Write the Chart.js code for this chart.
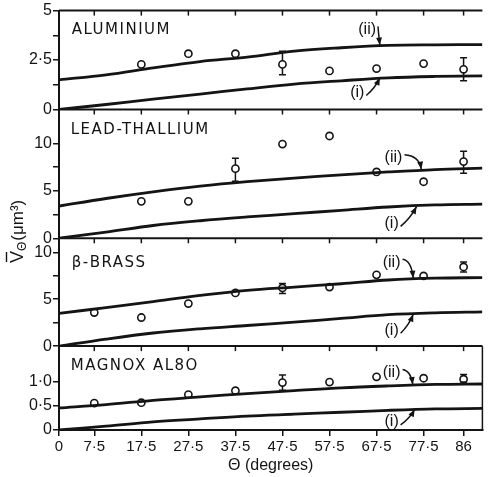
<!DOCTYPE html>
<html>
<head>
<meta charset="utf-8">
<script src="https://cdn.jsdelivr.net/npm/chart.js@4"></script>
<style>
  html, body { margin: 0; padding: 0; background: #fff; }
  #wrap { width: 488px; height: 477px; }
</style>
</head>
<body>
<div id="wrap"><canvas id="chart" width="488" height="477"></canvas></div>
<script>
// ----- data -----
const curveAngles = [0, 10, 20, 30, 40, 50, 60, 70, 80, 90];
const xTickValues = [0, 7.5, 17.5, 27.5, 37.5, 47.5, 57.5, 67.5, 77.5, 86];

// Aluminium
const alCurveI  = [0, 0.25, 0.52, 0.78, 1.04, 1.28, 1.45, 1.6, 1.67, 1.7];
const alCurveII = [1.5, 1.75, 2.1, 2.42, 2.65, 2.95, 3.12, 3.24, 3.27, 3.28];
const alAngles  = [17.5, 27.5, 37.5, 47.5, 57.5, 67.5, 77.5, 86];
const alValues  = [2.28, 2.82, 2.82, 2.28, 1.95, 2.07, 2.32, 2.03];
const alErrAngles = [47.5, 86];
const alErrLow    = [1.75, 1.45];
const alErrHigh   = [2.95, 2.62];
const alTicks      = [0, 1.25, 2.5, 3.75, 5];
const alTickLabels = ['0', '', '2·5', '', '5'];

// Lead-thallium
const ptCurveI  = [0, 0.65, 1.35, 1.85, 2.25, 2.6, 2.95, 3.3, 3.52, 3.6];
const ptCurveII = [3.4, 4.2, 4.9, 5.5, 5.97, 6.35, 6.7, 7.0, 7.25, 7.4];
const ptAngles  = [17.5, 27.5, 37.5, 47.5, 57.5, 67.5, 77.5, 86];
const ptValues  = [3.9, 3.9, 7.35, 9.95, 10.8, 7.0, 5.97, 8.1];
const ptErrAngles = [37.5, 86];
const ptErrLow    = [6.03, 6.87];
const ptErrHigh   = [8.45, 9.2];
const ptTicks      = [0, 2.5, 5, 7.5, 10];
const ptTickLabels = ['0', '', '5', '', '10'];

// beta-brass
const bbCurveI  = [0, 0.75, 1.4, 1.85, 2.2, 2.55, 2.95, 3.35, 3.55, 3.65];
const bbCurveII = [3.5, 4.1, 4.75, 5.4, 5.95, 6.3, 6.65, 7.05, 7.25, 7.3];
const bbAngles  = [7.5, 17.5, 27.5, 37.5, 47.5, 57.5, 67.5, 77.5, 86];
const bbValues  = [3.58, 3.05, 4.54, 5.67, 6.2, 6.3, 7.6, 7.48, 8.44];
const bbErrAngles = [47.5, 86];
const bbErrLow    = [5.6, 7.9];
const bbErrHigh   = [6.67, 8.97];
const bbTicks      = [0, 2.5, 5, 7.5, 10];
const bbTickLabels = ['0', '', '5', '', '10'];

// Magnox AL80
const mgCurveI  = [0, 0.08, 0.17, 0.23, 0.29, 0.33, 0.37, 0.41, 0.44, 0.45];
const mgCurveII = [0.46, 0.53, 0.62, 0.69, 0.76, 0.82, 0.88, 0.92, 0.95, 0.96];
const mgAngles  = [7.5, 17.5, 27.5, 37.5, 47.5, 57.5, 67.5, 77.5, 86];
const mgValues  = [0.56, 0.57, 0.74, 0.82, 0.99, 1.0, 1.11, 1.08, 1.06];
const mgErrAngles = [47.5, 86];
const mgErrLow    = [0.83, 1.0];
const mgErrHigh   = [1.15, 1.16];
const mgTicks      = [0, 0.5, 1];
const mgTickLabels = ['0', '0·5', '1·0'];

// ----- panel setup -----
const INK = '#141414';
const panels = [
  { id: 'yAl', name: 'ALUMINIUM', max: 5, weight: 99,
    curveI: alCurveI, curveII: alCurveII, angles: alAngles, values: alValues,
    errAngles: alErrAngles, errLow: alErrLow, errHigh: alErrHigh,
    ticks: alTicks, tickLabels: alTickLabels,
    nameAt: [2.7, 4.0], iiText: [65.5, 4.05], iiTip: [68.2, 3.26], iText: [63.4, 0.86], iTip: [68.2, 1.6] },
  { id: 'yPt', name: 'LEAD-THALLIUM', max: 13.6, weight: 129,
    curveI: ptCurveI, curveII: ptCurveII, angles: ptAngles, values: ptValues,
    errAngles: ptErrAngles, errLow: ptErrLow, errHigh: ptErrHigh,
    ticks: ptTicks, tickLabels: ptTickLabels,
    nameAt: [2.5, 11.4], iiText: [71.1, 8.5], iiTip: [77, 7.3], iText: [70.7, 1.58], iTip: [76, 3.35] },
  { id: 'yBb', name: 'β-BRASS', max: 11.5, weight: 108,
    curveI: bbCurveI, curveII: bbCurveII, angles: bbAngles, values: bbValues,
    errAngles: bbErrAngles, errLow: bbErrLow, errHigh: bbErrHigh,
    ticks: bbTicks, tickLabels: bbTickLabels,
    nameAt: [2.7, 8.8], iiText: [70.7, 8.95], iiTip: [75.3, 7.25], iText: [70.7, 1.7], iTip: [75.3, 3.4] },
  { id: 'yMg', name: 'MAGNOX AL8O', max: 1.75, weight: 84,
    curveI: mgCurveI, curveII: mgCurveII, angles: mgAngles, values: mgValues,
    errAngles: mgErrAngles, errLow: mgErrLow, errHigh: mgErrHigh,
    ticks: mgTicks, tickLabels: mgTickLabels,
    nameAt: [2.5, 1.33], iiText: [70.7, 1.2], iiTip: [75.2, 0.95], iText: [70.7, 0.17], iTip: [75.6, 0.43] }
];

const toXY = (xs, ys) => xs.map((x, i) => ({ x: x, y: ys[i] }));

const datasets = [];
panels.forEach(p => {
  [p.curveI, p.curveII].forEach(c => {
    datasets.push({
      type: 'line', yAxisID: p.id, data: toXY(curveAngles, c),
      borderColor: INK, borderWidth: 2.8, pointRadius: 0,
      tension: 0.35, fill: false
    });
  });
  datasets.push({
    type: 'scatter', yAxisID: p.id, data: toXY(p.angles, p.values),
    pointStyle: 'circle', pointRadius: 3.6, borderWidth: 1.6,
    borderColor: INK, backgroundColor: '#fff'
  });
});

const scales = {
  x: {
    type: 'linear', min: 0, max: 90, position: 'bottom',
    afterBuildTicks: s => { s.ticks = xTickValues.map(v => ({ value: v })); },
    afterFit: s => { s.height = 47; },
    grid: { drawOnChartArea: false, tickLength: 6, color: INK, lineWidth: 1.5 },
    border: { color: INK, width: 2 },
    ticks: {
      color: INK, padding: 2, maxRotation: 0, autoSkip: false,
      font: { family: 'Liberation Sans', size: 15 },
      callback: v => String(v).replace('.', '·')
    },
    title: {
      display: true, text: 'Θ (degrees)', color: INK,
      font: { family: 'Liberation Sans', size: 16 },
      padding: { top: 0, bottom: 2 }
    }
  }
};
panels.forEach((p, i) => {
  scales[p.id] = {
    type: 'linear', position: 'left', stack: 'panels',
    stackWeight: p.weight, weight: panels.length - i,
    min: 0, max: p.max,
    afterBuildTicks: s => { s.ticks = p.ticks.map(v => ({ value: v })); },
    afterFit: s => { s.width = 59; },
    grid: { drawOnChartArea: false, tickLength: 6, color: INK, lineWidth: 1.5 },
    border: { color: INK, width: 2 },
    ticks: {
      color: INK, padding: 1, autoSkip: false,
      font: { family: 'Liberation Sans', size: 16 },
      callback: v => { const k = p.ticks.indexOf(v); return k >= 0 ? p.tickLabels[k] : ''; }
    }
  };
});

function drawArrow(ctx, from, ctrl, tip) {
  ctx.beginPath();
  ctx.moveTo(from[0], from[1]);
  ctx.quadraticCurveTo(ctrl[0], ctrl[1], tip[0], tip[1]);
  ctx.lineWidth = 1.5;
  ctx.stroke();
  const a = Math.atan2(tip[1] - ctrl[1], tip[0] - ctrl[0]);
  ctx.beginPath();
  ctx.moveTo(tip[0], tip[1]);
  ctx.lineTo(tip[0] - 8 * Math.cos(a - 0.38), tip[1] - 8 * Math.sin(a - 0.38));
  ctx.lineTo(tip[0] - 8 * Math.cos(a + 0.38), tip[1] - 8 * Math.sin(a + 0.38));
  ctx.closePath();
  ctx.fill();
}

const decorations = {
  id: 'decorations',
  afterDraw(chart) {
    const ctx = chart.ctx;
    const xs = chart.scales.x;
    const area = chart.chartArea;
    ctx.save();
    ctx.strokeStyle = INK;
    ctx.fillStyle = INK;

    panels.forEach((p, i) => {
      const ys = chart.scales[p.id];
      const px = v => xs.getPixelForValue(v);
      const py = v => ys.getPixelForValue(v);

      // top edge of the panel with little tick marks
      ctx.lineWidth = 2;
      ctx.beginPath();
      ctx.moveTo(area.left, ys.top);
      ctx.lineTo(area.right, ys.top);
      ctx.stroke();
      ctx.lineWidth = 1.5;
      xTickValues.forEach(v => {
        ctx.beginPath();
        ctx.moveTo(px(v), ys.top);
        ctx.lineTo(px(v), ys.top + 5);
        ctx.stroke();
      });

      // error bars
      ctx.lineWidth = 1.5;
      p.errAngles.forEach((a, k) => {
        const x = px(a), y0 = py(p.errLow[k]), y1 = py(p.errHigh[k]);
        const v = p.values[p.angles.indexOf(a)];
        const yc = py(v);
        ctx.beginPath();
        ctx.moveTo(x, y1); ctx.lineTo(x, yc - 3.6);
        ctx.moveTo(x, yc + 3.6); ctx.lineTo(x, y0);
        ctx.moveTo(x - 3.5, y1); ctx.lineTo(x + 3.5, y1);
        ctx.moveTo(x - 3.5, y0); ctx.lineTo(x + 3.5, y0);
        ctx.stroke();
      });

      // panel name
      ctx.font = '15px "DejaVu Sans"';
      ctx.letterSpacing = '1.5px';
      ctx.textAlign = 'left';
      ctx.textBaseline = 'middle';
      ctx.fillText(p.name, px(p.nameAt[0]), py(p.nameAt[1]));
      ctx.letterSpacing = '0px';

      // curve labels with arrows
      ctx.font = '16px "Liberation Sans"';
      ctx.textAlign = 'center';
      const iiX = px(p.iiText[0]), iiY = py(p.iiText[1]);
      ctx.fillText('(ii)', iiX, iiY);
      const iiTip = [px(p.iiTip[0]), py(p.iiTip[1])];
      drawArrow(ctx, [iiX + 11, iiY - 3], [iiTip[0] - 2, iiY - 2], iiTip);

      const iX = px(p.iText[0]), iY = py(p.iText[1]);
      ctx.fillText('(i)', iX, iY);
      const iTip = [px(p.iTip[0]), py(p.iTip[1])];
      drawArrow(ctx, [iX + 9, iY + 3], [(iX + 9 + iTip[0]) / 2 + 2, (iY + iTip[1]) / 2 + 3], iTip);

      // right border only shows on the bottom panel in the scan
      if (i === panels.length - 1) {
        ctx.lineWidth = 1.5;
        ctx.beginPath();
        ctx.moveTo(area.right, ys.top);
        ctx.lineTo(area.right, ys.bottom);
        ctx.stroke();
      }
    });

    // shared y title: V-bar with subscript theta, then units
    ctx.translate(16, 263);
    ctx.rotate(-Math.PI / 2);
    ctx.textAlign = 'left';
    ctx.textBaseline = 'alphabetic';
    ctx.font = '18px "Liberation Sans"';
    const startX = 0;
    ctx.fillText('V', startX, 7);
    const vw = ctx.measureText('V').width;
    ctx.lineWidth = 1.4;
    ctx.beginPath();
    ctx.moveTo(startX + 1, -9.5);
    ctx.lineTo(startX + vw - 1, -9.5);
    ctx.stroke();
    ctx.font = '12px "Liberation Sans"';
    ctx.fillText('Θ', startX + vw, 10);
    const tw = ctx.measureText('Θ').width;
    ctx.font = '17px "Liberation Sans"';
    ctx.fillText('(μm³)', startX + vw + tw + 1, 7);
    ctx.restore();
  }
};

new Chart(document.getElementById('chart'), {
  data: { datasets: datasets },
  options: {
    responsive: false,
    animation: false,
    layout: { padding: { top: 10, right: 1, left: 0, bottom: 0 } },
    plugins: { legend: { display: false }, tooltip: { enabled: false } },
    scales: scales
  },
  plugins: [decorations]
});
</script>
</body>
</html>
